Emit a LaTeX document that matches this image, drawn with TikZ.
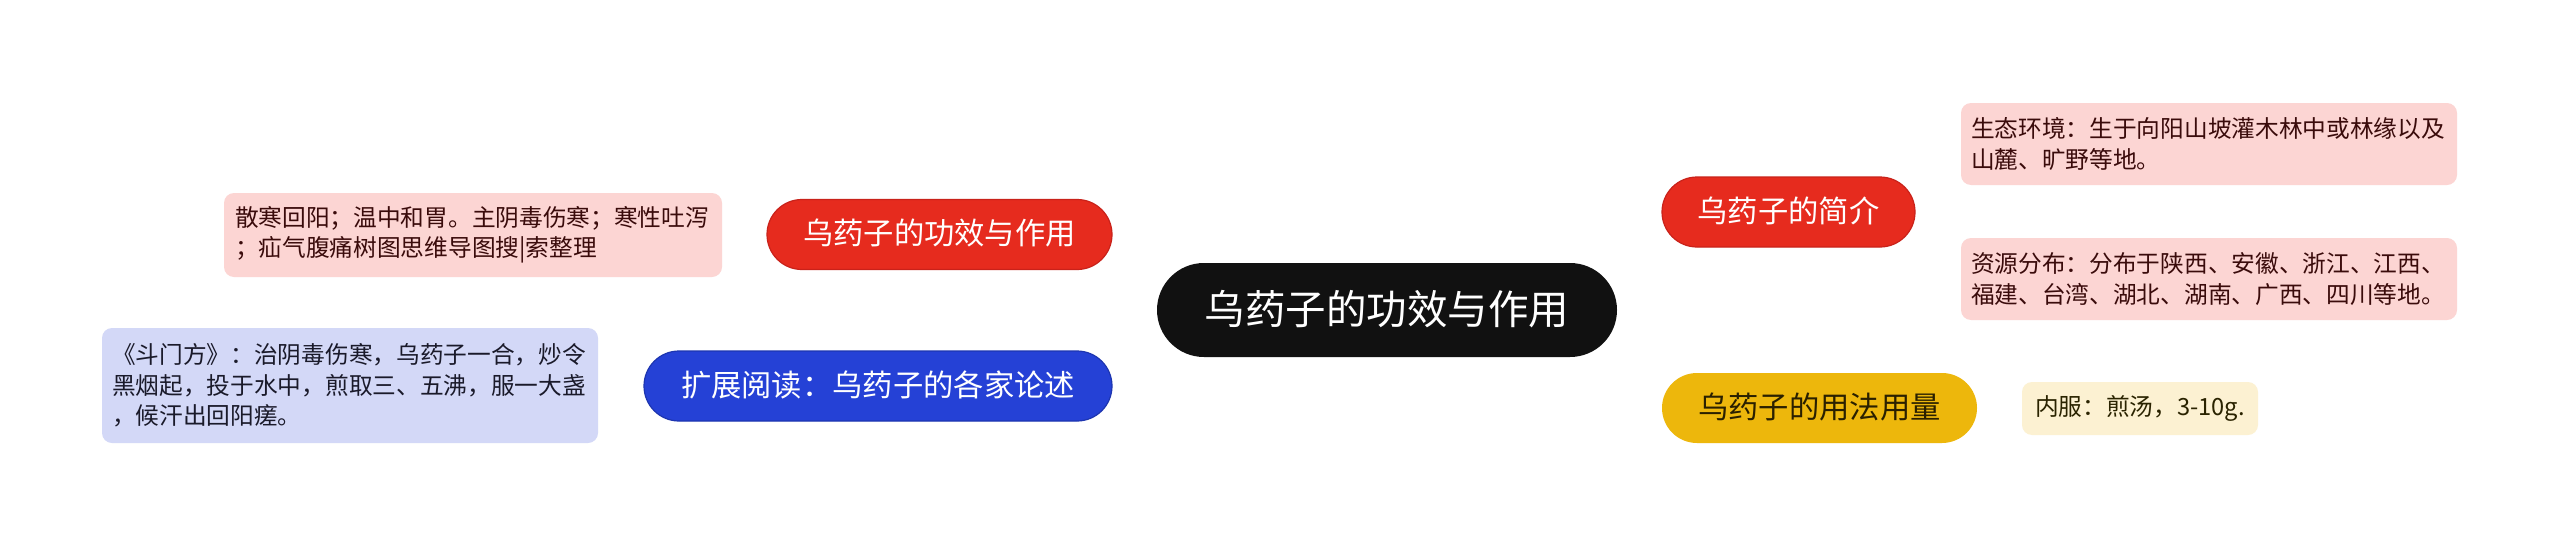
\documentclass[tikz,border=0pt]{standalone}
\usepackage{fontspec}
\setmainfont{Noto Sans CJK SC}
\usetikzlibrary{calc}
\pgfdeclarelayer{bg}
\pgfsetlayers{bg,main}
\definecolor{rootc}{HTML}{111111}
\definecolor{redn}{HTML}{E62B1E}
\definecolor{redd}{HTML}{C9221A}
\definecolor{redl}{HTML}{D9261C}
\definecolor{pinkb}{HTML}{FCD5D3}
\definecolor{pinkt}{HTML}{3A0B0B}
\definecolor{bluen}{HTML}{2541D6}
\definecolor{blued}{HTML}{1D35B0}
\definecolor{bluel}{HTML}{1F3BB8}
\definecolor{lavb}{HTML}{D3D8F7}
\definecolor{lavt}{HTML}{1A1A2A}
\definecolor{yeln}{HTML}{EDB70C}
\definecolor{yell}{HTML}{E8B20E}
\definecolor{yelt}{HTML}{2A2000}
\definecolor{creamb}{HTML}{FCF1D2}
\definecolor{creamt}{HTML}{2A2300}
\tikzset{
  mainnode/.style={rounded corners=35pt, minimum height=70pt, inner sep=0pt,
    font=\fontsize{30.3}{36}\selectfont, text height=25pt, text depth=5pt, align=center},
  leafbox/.style={rounded corners=10pt, inner xsep=10pt, inner ysep=0pt, align=left,
    text width=476pt, font=\fontsize{23.7}{30.5}\selectfont},
  rootlink/.style={line width=3.5pt},
  sublink/.style={line width=3pt}
}
\begin{document}
\begin{tikzpicture}[x=1pt,y=-1pt]
\fill[white] (0,0) rectangle (2560,546);
\useasboundingbox (0,0) rectangle (2560,546);

% root
\node[fill=rootc, text=white, rounded corners=47pt, minimum width=460pt, minimum height=94pt,
  inner sep=0pt, font=\fontsize{40.5}{48}\selectfont, text height=34pt, text depth=6pt]
  (root) at (1387,310) {乌药子的功效与作用};

% main branches
\node[mainnode, fill=redn, draw=redd, line width=1.2pt, text=white, minimum width=345pt]
  (gx) at (939.5,234.5) {乌药子的功效与作用};
\node[mainnode, fill=redn, draw=redd, line width=1.2pt, text=white, minimum width=253pt]
  (jj) at (1788.5,212) {乌药子的简介};
\node[mainnode, fill=bluen, draw=blued, line width=1.2pt, text=white, minimum width=468pt]
  (kz) at (878,386) {扩展阅读：乌药子的各家论述};
\node[mainnode, fill=yeln, text=yelt, minimum width=315pt]
  (yf) at (1819.5,408) {乌药子的用法用量};

% leaves
\node[leafbox, fill=pinkb, text=pinkt, inner xsep=11pt, minimum height=84pt]
  (gxl) at (473,235) {散寒回阳；温中和胃。主阴毒伤寒；寒性吐泻\\；疝气腹痛树图思维导图搜|索整理};
\node[leafbox, fill=lavb, text=lavt, minimum height=115pt]
  (kzl) at (350,385.5) {《斗门方》：治阴毒伤寒，乌药子一合，炒令\\黑烟起，投于水中，煎取三、五沸，服一大盏\\，候汗出回阳瘥。};
\node[leafbox, fill=pinkb, text=pinkt, minimum height=82pt]
  (jj1) at (2209,144) {生态环境：生于向阳山坡灌木林中或林缘以及\\山麓、旷野等地。};
\node[leafbox, fill=pinkb, text=pinkt, minimum height=82pt]
  (jj2) at (2209,279) {资源分布：分布于陕西、安徽、浙江、江西、\\福建、台湾、湖北、湖南、广西、四川等地。};
\node[rounded corners=10pt, fill=creamb, text=creamt, inner xsep=12pt, inner ysep=0pt,
  minimum width=236pt, minimum height=53pt, font=\fontsize{23.7}{30}\selectfont]
  (yfl) at (2140,408.5) {内服：煎汤，3-10g.};

\begin{pgfonlayer}{bg}
  \draw[rootlink, redl] ($(root.center)+(-7,-10)$) .. controls (1365,245) and (1230,234) .. (gx.east);
  \draw[rootlink, redl] ($(root.center)+(-7,-10)$) .. controls (1405,240) and (1530,212) .. (jj.west);
  \draw[rootlink, bluel] ($(root.center)+(-7,10)$) .. controls (1365,375) and (1230,386) .. (kz.east);
  \draw[rootlink, yell] ($(root.center)+(-7,10)$) .. controls (1395,375) and (1530,408) .. (yf.west);
  \draw[sublink, redl] (gx.west) -- (gxl.east);
  \draw[sublink, bluel] (kz.west) -- (kzl.east);
  \draw[sublink, yell] (yf.east) -- (yfl.west);
  \coordinate (bk) at ($(jj.east)+(24,0)$);
  \draw[sublink, redl] (jj.east) -- (bk);
  \draw[sublink, redl, rounded corners=22pt] (jj1.west) -| (bk) |- (jj2.west);
\end{pgfonlayer}
\end{tikzpicture}
\end{document}
